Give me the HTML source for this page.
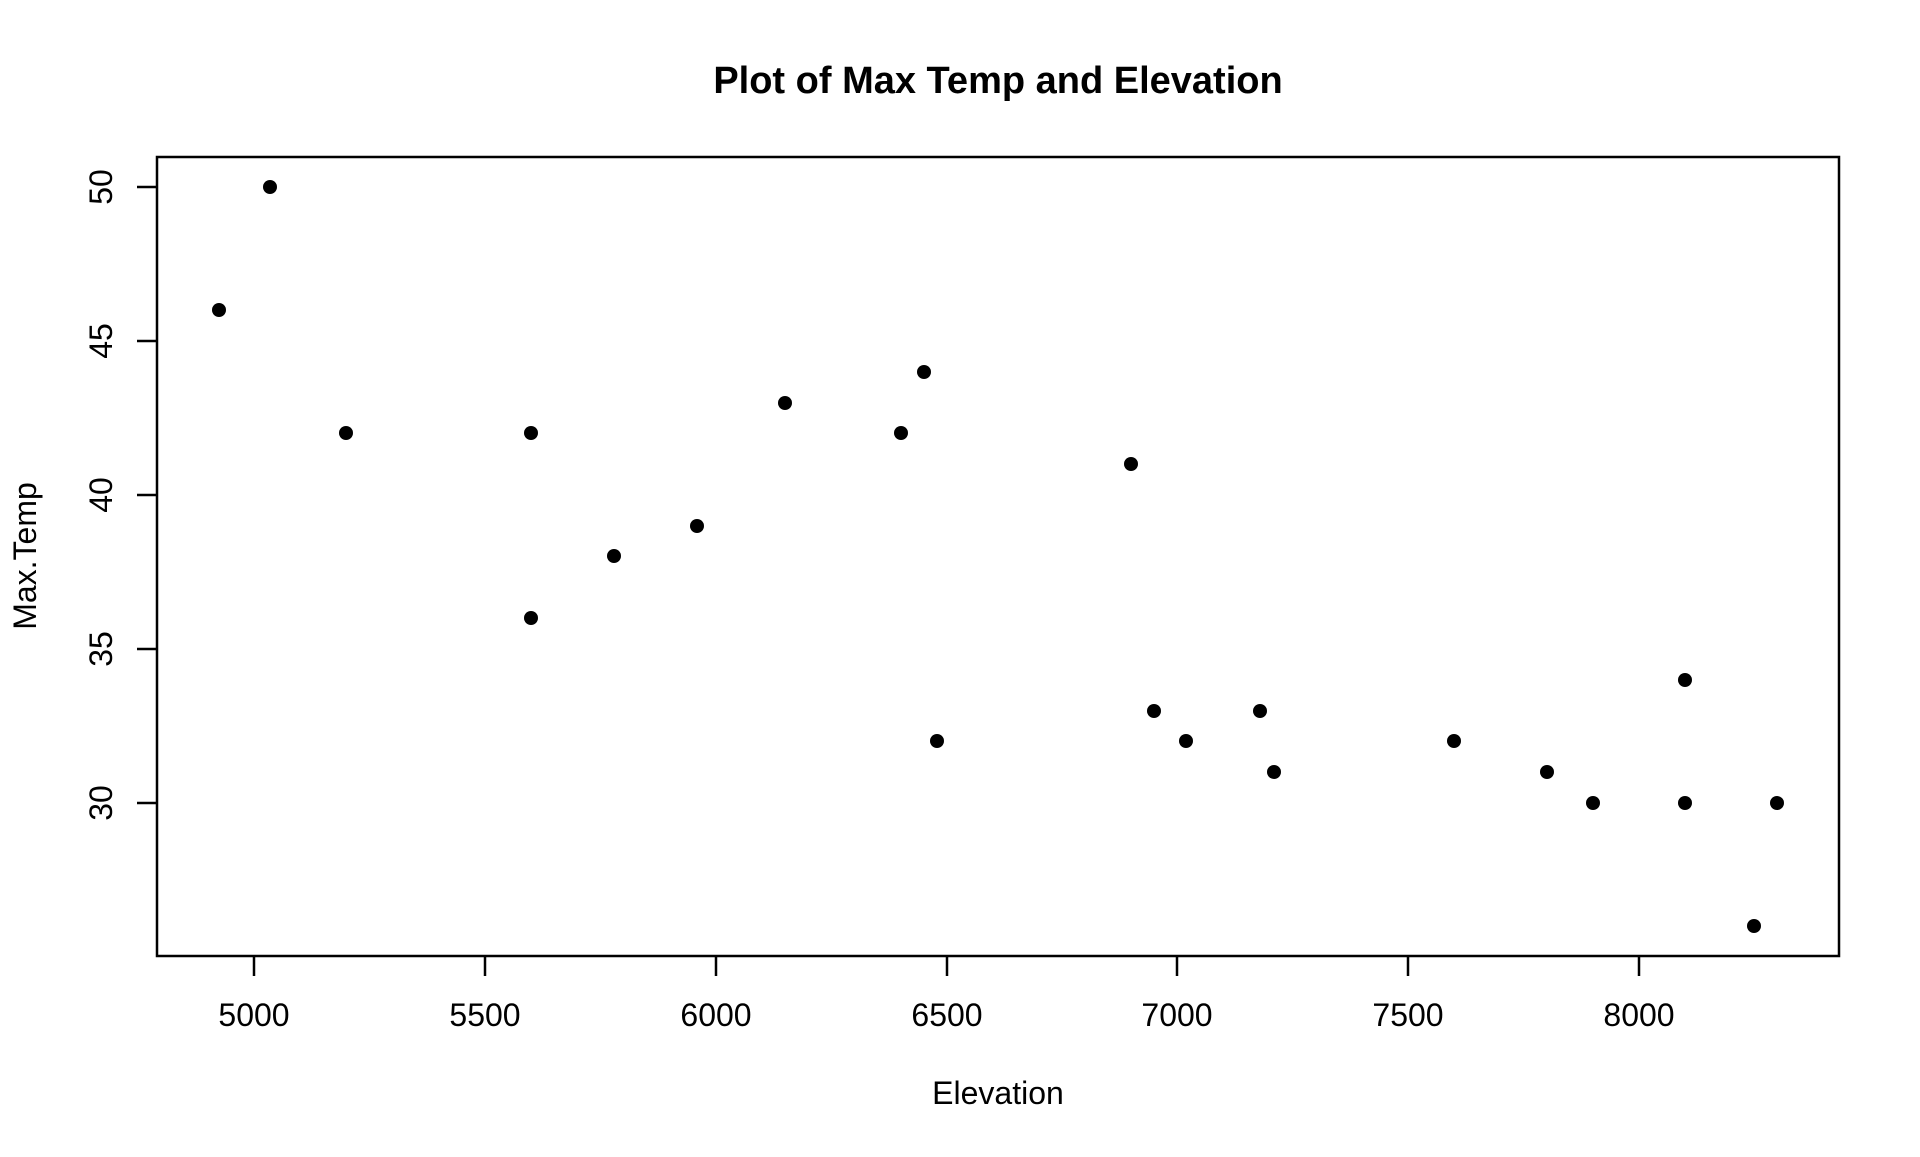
<!DOCTYPE html>
<html><head><meta charset="utf-8"><style>html,body{margin:0;padding:0;background:#fff}</style></head>
<body>
<svg width="1920" height="1152" viewBox="0 0 1920 1152" xmlns="http://www.w3.org/2000/svg" font-family="Liberation Sans, Arial, sans-serif">
<rect width="1920" height="1152" fill="#fff"/>
<text x="998" y="93" font-size="38" font-weight="bold" text-anchor="middle">Plot of Max Temp and Elevation</text>
<rect x="157" y="157" width="1682" height="799" fill="none" stroke="#000" stroke-width="2.5"/>
<g stroke="#000" stroke-width="2.5">
<line x1="254" y1="956" x2="254" y2="976"/>
<line x1="485" y1="956" x2="485" y2="976"/>
<line x1="716" y1="956" x2="716" y2="976"/>
<line x1="947" y1="956" x2="947" y2="976"/>
<line x1="1177" y1="956" x2="1177" y2="976"/>
<line x1="1408" y1="956" x2="1408" y2="976"/>
<line x1="1639" y1="956" x2="1639" y2="976"/>
<line x1="157" y1="187" x2="137" y2="187"/>
<line x1="157" y1="341" x2="137" y2="341"/>
<line x1="157" y1="495" x2="137" y2="495"/>
<line x1="157" y1="649" x2="137" y2="649"/>
<line x1="157" y1="803" x2="137" y2="803"/>
</g>
<g font-size="32" text-anchor="middle">
<text x="254" y="1026">5000</text>
<text x="485" y="1026">5500</text>
<text x="716" y="1026">6000</text>
<text x="947" y="1026">6500</text>
<text x="1177" y="1026">7000</text>
<text x="1408" y="1026">7500</text>
<text x="1639" y="1026">8000</text>
<text transform="translate(112,187) rotate(-90)">50</text>
<text transform="translate(112,341) rotate(-90)">45</text>
<text transform="translate(112,495) rotate(-90)">40</text>
<text transform="translate(112,649) rotate(-90)">35</text>
<text transform="translate(112,803) rotate(-90)">30</text>
<text x="998" y="1104">Elevation</text>
<text transform="translate(36,556) rotate(-90)">Max.Temp</text>
</g>
<g fill="#000">
<circle cx="219" cy="310" r="7"/>
<circle cx="270" cy="187" r="7"/>
<circle cx="346" cy="433" r="7"/>
<circle cx="531" cy="433" r="7"/>
<circle cx="531" cy="618" r="7"/>
<circle cx="614" cy="556" r="7"/>
<circle cx="697" cy="526" r="7"/>
<circle cx="785" cy="403" r="7"/>
<circle cx="901" cy="433" r="7"/>
<circle cx="924" cy="372" r="7"/>
<circle cx="937" cy="741" r="7"/>
<circle cx="1131" cy="464" r="7"/>
<circle cx="1154" cy="711" r="7"/>
<circle cx="1186" cy="741" r="7"/>
<circle cx="1260" cy="711" r="7"/>
<circle cx="1274" cy="772" r="7"/>
<circle cx="1454" cy="741" r="7"/>
<circle cx="1547" cy="772" r="7"/>
<circle cx="1593" cy="803" r="7"/>
<circle cx="1685" cy="680" r="7"/>
<circle cx="1685" cy="803" r="7"/>
<circle cx="1754" cy="926" r="7"/>
<circle cx="1777" cy="803" r="7"/>
</g>
</svg>
</body></html>
